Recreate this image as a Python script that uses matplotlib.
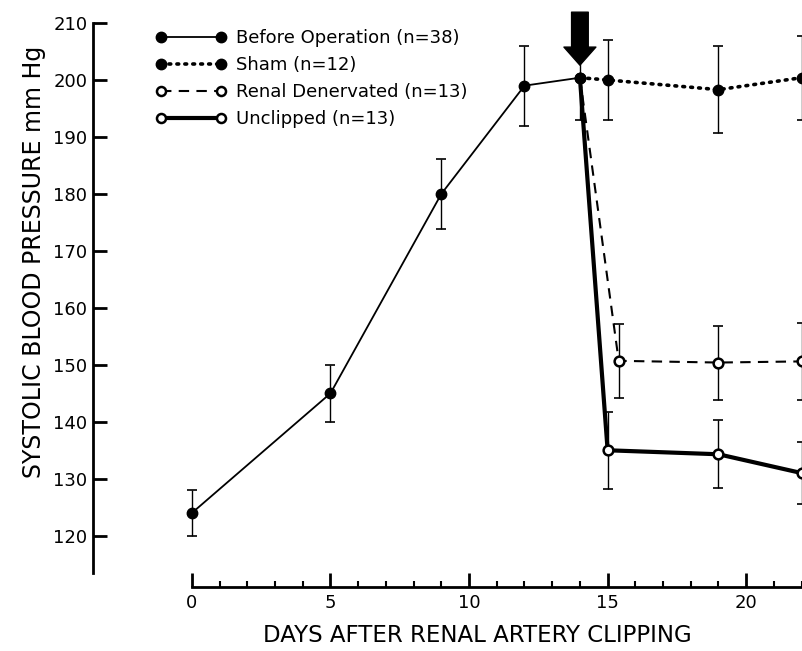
import matplotlib
matplotlib.use("Agg")
import matplotlib.pyplot as plt
from matplotlib.ticker import FixedLocator
from matplotlib.lines import Line2D

# ---- data ----
pre_days = [0, 5, 9, 12, 14]
pre_vals = [124, 145, 180, 199, 200.4]
pre_err = [4, 5, 6.2, 7, 7.5]

sham_days = [15, 19, 22]
sham_vals = [200, 198.3, 200.4]
sham_err = [7, 7.6, 7.4]

renal_days = [15.4, 19, 22]
renal_vals = [150.7, 150.4, 150.6]
renal_err = [6.5, 6.5, 6.7]

uncl_days = [15, 19, 22]
uncl_vals = [135, 134.3, 131]
uncl_err = [6.8, 6.0, 5.5]

op_day = 14
y_ticks = [120, 130, 140, 150, 160, 170, 180, 190, 200, 210]
x_ticks = [0, 5, 10, 15, 20]
x_minor = [d for d in range(1, 23) if d % 5 != 0]

labels = ["Before Operation (n=38)", "Sham (n=12)",
          "Renal Denervated (n=13)", "Unclipped (n=13)"]

plt.rcParams['font.family'] = ['DejaVu Sans']

W, H = 803, 651
fig = plt.figure(figsize=(W / 100, H / 100), dpi=100)
ax_top_px, ax_bot_px, ax_left_px = 23, 587, 93
ax = fig.add_axes([ax_left_px / W, 1 - ax_bot_px / H, 1 - ax_left_px / W,
                   (ax_bot_px - ax_top_px) / H])
ax.set_xlim(-3.57, 22.05)
ax.set_ylim(111.0, 210)

# error bars
ebkw = dict(fmt='none', ecolor='black', elinewidth=1.0, capsize=3.6, capthick=1.2, zorder=2)
ax.errorbar(pre_days, pre_vals, yerr=pre_err, **ebkw)
ax.errorbar(sham_days, sham_vals, yerr=sham_err, **ebkw)
ax.errorbar(renal_days, renal_vals, yerr=renal_err, **ebkw)
ax.errorbar(uncl_days, uncl_vals, yerr=uncl_err, **ebkw)

sham_ls = (0, (0.5, 1.7))
renal_ls = (0, (5, 3.5))

# lines (post-op groups start from last pre-op point)
ax.plot(pre_days, pre_vals, '-', color='black', lw=1.3,
        marker='o', ms=7.5, mfc='black', mec='black', zorder=3)
ax.plot([pre_days[-1]] + sham_days, [pre_vals[-1]] + sham_vals,
        color='black', lw=2.6, linestyle=sham_ls, dash_capstyle='round',
        marker='o', ms=7.5, mfc='black', mec='black', markevery=[1, 2, 3], zorder=3)
ax.plot([pre_days[-1]] + renal_days, [pre_vals[-1]] + renal_vals,
        color='black', lw=1.5, linestyle=renal_ls,
        marker='o', ms=7, mfc='white', mec='black', mew=1.8,
        markevery=[1, 2, 3], zorder=3)
ax.plot([pre_days[-1]] + uncl_days, [pre_vals[-1]] + uncl_vals,
        color='black', lw=3.0, linestyle='-',
        marker='o', ms=7, mfc='white', mec='black', mew=1.8,
        markevery=[1, 2, 3], zorder=3)
ax.plot([pre_days[-1]], [pre_vals[-1]], 'o', ms=7.5, color='black', zorder=4)

# arrow marking operation
ax.annotate('', xy=(op_day, 202.6), xytext=(op_day, 211.9),
            arrowprops=dict(arrowstyle='simple,head_width=1.15,head_length=0.65,tail_width=0.6',
                            color='black', shrinkA=0, shrinkB=0, mutation_scale=20),
            annotation_clip=False, zorder=5)

# legend
h_pre = Line2D([], [], color='black', lw=1.3, marker='o', ms=7.5, mfc='black')
h_sham = Line2D([], [], color='black', lw=2.6, linestyle=sham_ls,
                dash_capstyle='round', marker='o', ms=7.5, mfc='black')
h_ren = Line2D([], [], color='black', lw=1.5, linestyle=renal_ls, marker='o',
               ms=6.5, mfc='white', mew=1.8)
h_unc = Line2D([], [], color='black', lw=3.0, marker='o', ms=6.5, mfc='white', mew=1.8)
fig.legend([h_pre, h_sham, h_ren, h_unc], labels, loc='upper left',
           bbox_to_anchor=(156 / W, 1 - 29 / H), frameon=False, numpoints=2,
           handlelength=3.9, handletextpad=0.55, labelspacing=0.5,
           borderaxespad=0, borderpad=0, prop={'size': 13})

# spines
for s in ['top', 'right']:
    ax.spines[s].set_visible(False)
ax.spines['left'].set_linewidth(2)
ax.spines['left'].set_bounds(113.5, 210)
ax.spines['bottom'].set_linewidth(2)
ax.spines['bottom'].set_bounds(0, 22.05)

ax.set_yticks(y_ticks)
ax.set_yticklabels([str(v) for v in y_ticks])
ax.set_xticks(x_ticks)
ax.set_xticklabels([str(v) for v in x_ticks])
ax.xaxis.set_minor_locator(FixedLocator(x_minor))
ax.tick_params(axis='y', direction='in', length=10, width=2, labelsize=13, pad=4)
ax.tick_params(axis='x', which='major', direction='in', length=10, width=2, labelsize=13, pad=5)
ax.tick_params(axis='x', which='minor', direction='in', length=4, width=1.5)

ax.set_ylabel('SYSTOLIC BLOOD PRESSURE mm Hg', fontsize=17, va='center')
ax.yaxis.set_label_coords((34 - ax_left_px) / (W - ax_left_px),
                          (ax_bot_px - 262) / (ax_bot_px - ax_top_px))
ax.set_xlabel('DAYS AFTER RENAL ARTERY CLIPPING', fontsize=16.5, va='center')
ax.xaxis.set_label_coords((477 - ax_left_px) / (W - ax_left_px),
                          (ax_bot_px - 636) / (ax_bot_px - ax_top_px))

fig.savefig('out.png', dpi=100)
